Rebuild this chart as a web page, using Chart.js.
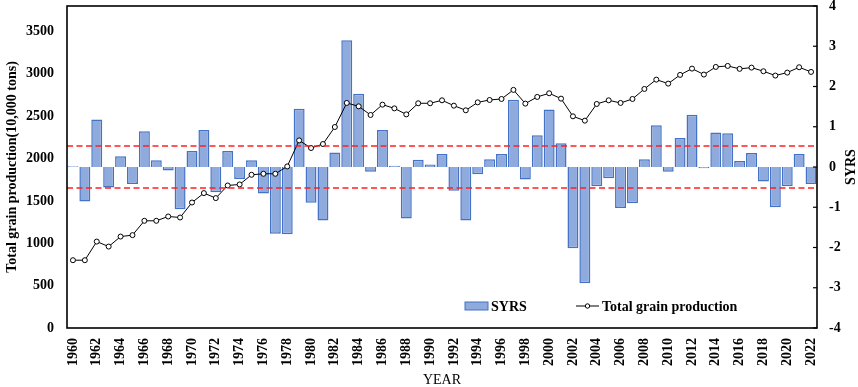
<!DOCTYPE html>
<html>
<head>
<meta charset="utf-8">
<script src="https://cdn.jsdelivr.net/npm/chart.js@4.4.1/dist/chart.umd.min.js"></script>
<style>
html,body{margin:0;padding:0;background:#fff;}
canvas{display:block;}
</style>
</head>
<body>
<canvas id="c" width="858" height="387"></canvas>
<script>
const years = [1960,1961,1962,1963,1964,1965,1966,1967,1968,1969,1970,1971,1972,1973,1974,1975,1976,1977,1978,1979,1980,1981,1982,1983,1984,1985,1986,1987,1988,1989,1990,1991,1992,1993,1994,1995,1996,1997,1998,1999,2000,2001,2002,2003,2004,2005,2006,2007,2008,2009,2010,2011,2012,2013,2014,2015,2016,2017,2018,2019,2020,2021,2022];
const grainProduction = [800,800,1020,961,1079,1096,1265,1265,1316,1304,1481,1592,1533,1682,1694,1808,1820,1820,1907,2214,2124,2171,2372,2656,2616,2514,2636,2592,2521,2652,2652,2687,2624,2569,2663,2691,2703,2810,2648,2727,2770,2707,2498,2447,2644,2687,2656,2703,2821,2931,2884,2987,3061,2991,3081,3093,3058,3073,3030,2979,3014,3077,3022];
const syrs = [0.02,-0.86,1.18,-0.51,0.27,-0.42,0.89,0.17,-0.09,-1.05,0.40,0.92,-0.63,0.40,-0.30,0.17,-0.66,-1.66,-1.67,1.45,-0.89,-1.33,0.36,3.15,1.82,-0.12,0.92,0.03,-1.28,0.18,0.06,0.32,-0.59,-1.33,-0.18,0.19,0.32,1.67,-0.31,0.79,1.43,0.59,-2.02,-2.89,-0.48,-0.28,-1.02,-0.90,0.19,1.04,-0.12,0.72,1.30,-0.03,0.86,0.84,0.15,0.35,-0.36,-1.00,-0.48,0.32,-0.42];
const thresholds = [0.52, -0.52];
const leftTicks = [0,500,1000,1500,2000,2500,3000,3500];
const rightTicks = [-4,-3,-2,-1,0,1,2,3,4];
const rightTitle = 'SYRS';

const FONT = '"Liberation Serif", "Times New Roman", serif';

const extrasPlugin = {
  id: 'extras',
  afterDatasetsDraw(chart) {
    const {ctx, chartArea: a} = chart;
    const y1 = chart.scales.y1;
    ctx.save();
    ctx.strokeStyle = '#FF2020';
    ctx.lineWidth = 1.5;
    ctx.setLineDash([6, 3.5]);
    thresholds.forEach(t => {
      const py = y1.getPixelForValue(t);
      ctx.beginPath();
      ctx.moveTo(a.left, py);
      ctx.lineTo(a.right, py);
      ctx.stroke();
    });
    ctx.setLineDash([]);
    ctx.strokeStyle = '#000';
    ctx.lineWidth = 1.6;
    ctx.strokeRect(a.left, a.top, a.right - a.left, a.bottom - a.top);
    ctx.lineWidth = 1.2;
    y1.ticks.forEach(tk => {
      const py = y1.getPixelForValue(tk.value);
      ctx.beginPath();
      ctx.moveTo(a.right - 4, py);
      ctx.lineTo(a.right, py);
      ctx.stroke();
    });
    ctx.restore();
  },
  afterDraw(chart) {
    const {ctx} = chart;
    const bar = chart.data.datasets[0];
    const line = chart.data.datasets[1];
    const y1 = chart.scales.y1;
    ctx.save();
    ctx.font = 'bold 14px ' + FONT;
    ctx.textBaseline = 'middle';
    ctx.textAlign = 'left';
    const ly = 306;
    ctx.fillStyle = bar.backgroundColor;
    ctx.fillRect(465, ly - 4, 23, 8);
    ctx.strokeStyle = bar.borderColor;
    ctx.lineWidth = 1;
    ctx.strokeRect(465, ly - 4, 23, 8);
    ctx.fillStyle = '#000';
    ctx.fillText(bar.label, 491, ly + 1);
    ctx.strokeStyle = line.borderColor;
    ctx.lineWidth = 1;
    ctx.beginPath();
    ctx.moveTo(576, ly);
    ctx.lineTo(599, ly);
    ctx.stroke();
    ctx.beginPath();
    ctx.arc(587.5, ly, 2.2, 0, Math.PI * 2);
    ctx.fillStyle = '#fff';
    ctx.fill();
    ctx.stroke();
    ctx.fillStyle = '#000';
    ctx.fillText(line.label, 602, ly + 1);
    // right axis title, reading bottom-to-top
    ctx.translate(y1.right - 7, (y1.top + y1.bottom) / 2);
    ctx.rotate(-Math.PI / 2);
    ctx.textAlign = 'center';
    ctx.fillText(rightTitle, 0, 0);
    ctx.restore();
  }
};

new Chart(document.getElementById('c'), {
  data: {
    labels: years,
    datasets: [
      {
        type: 'bar',
        label: 'SYRS',
        data: syrs,
        yAxisID: 'y1',
        backgroundColor: '#8FAADC',
        borderColor: '#4472C4',
        borderWidth: 1.5,
        barPercentage: 0.92,
        categoryPercentage: 1.0,
        order: 2
      },
      {
        type: 'line',
        label: 'Total grain production',
        data: grainProduction,
        yAxisID: 'y',
        borderColor: '#000',
        borderWidth: 1,
        pointRadius: 2.5,
        pointBackgroundColor: '#fff',
        pointBorderColor: '#000',
        pointBorderWidth: 1,
        tension: 0,
        order: 1
      }
    ]
  },
  options: {
    responsive: false,
    animation: false,
    layout: {padding: {top: 6, left: 0, right: 0, bottom: 0}},
    plugins: {legend: {display: false}, tooltip: {enabled: false}},
    scales: {
      x: {
        type: 'category',
        offset: true,
        grid: {display: false, drawTicks: false},
        border: {display: false},
        ticks: {
          autoSkip: false,
          maxRotation: 90,
          minRotation: 90,
          padding: 10,
          color: '#000',
          font: {family: FONT, size: 14, weight: 'bold'},
          callback: function(v, i) { return i % 2 === 0 ? String(years[i]) : ''; }
        },
        title: {
          display: true,
          text: 'YEAR',
          color: '#000',
          font: {family: FONT, size: 14, weight: 'normal', lineHeight: 1},
          padding: {top: 0, bottom: 0}
        },
        afterFit(s) { s.height = 59; s.paddingLeft = 0; s.paddingRight = 0; }
      },
      y: {
        position: 'left',
        min: 0,
        max: 3800,
        grid: {display: false, drawTicks: false},
        border: {display: false},
        afterBuildTicks(s) { s.ticks = leftTicks.map(v => ({value: v})); },
        ticks: {
          padding: 13,
          color: '#000',
          font: {family: FONT, size: 14, weight: 'bold'},
          callback: v => String(v)
        },
        title: {
          display: true,
          text: 'Total grain production(10,000 tons)',
          color: '#000',
          font: {family: FONT, size: 14, weight: 'bold', lineHeight: 1},
          padding: {top: 5, bottom: 0}
        },
        afterFit(s) { s.width = 67; s.paddingTop = 0; s.paddingBottom = 0; }
      },
      y1: {
        position: 'right',
        min: -4,
        max: 4,
        grid: {display: false, drawTicks: false},
        border: {display: false},
        afterBuildTicks(s) { s.ticks = rightTicks.map(v => ({value: v})); },
        ticks: {
          padding: 12,
          color: '#000',
          font: {family: FONT, size: 14, weight: 'bold'},
          callback: v => String(v)
        },
        title: {display: false},
        afterFit(s) { s.width = 41; s.paddingTop = 0; s.paddingBottom = 0; }
      }
    }
  },
  plugins: [extrasPlugin]
});
</script>
</body>
</html>
